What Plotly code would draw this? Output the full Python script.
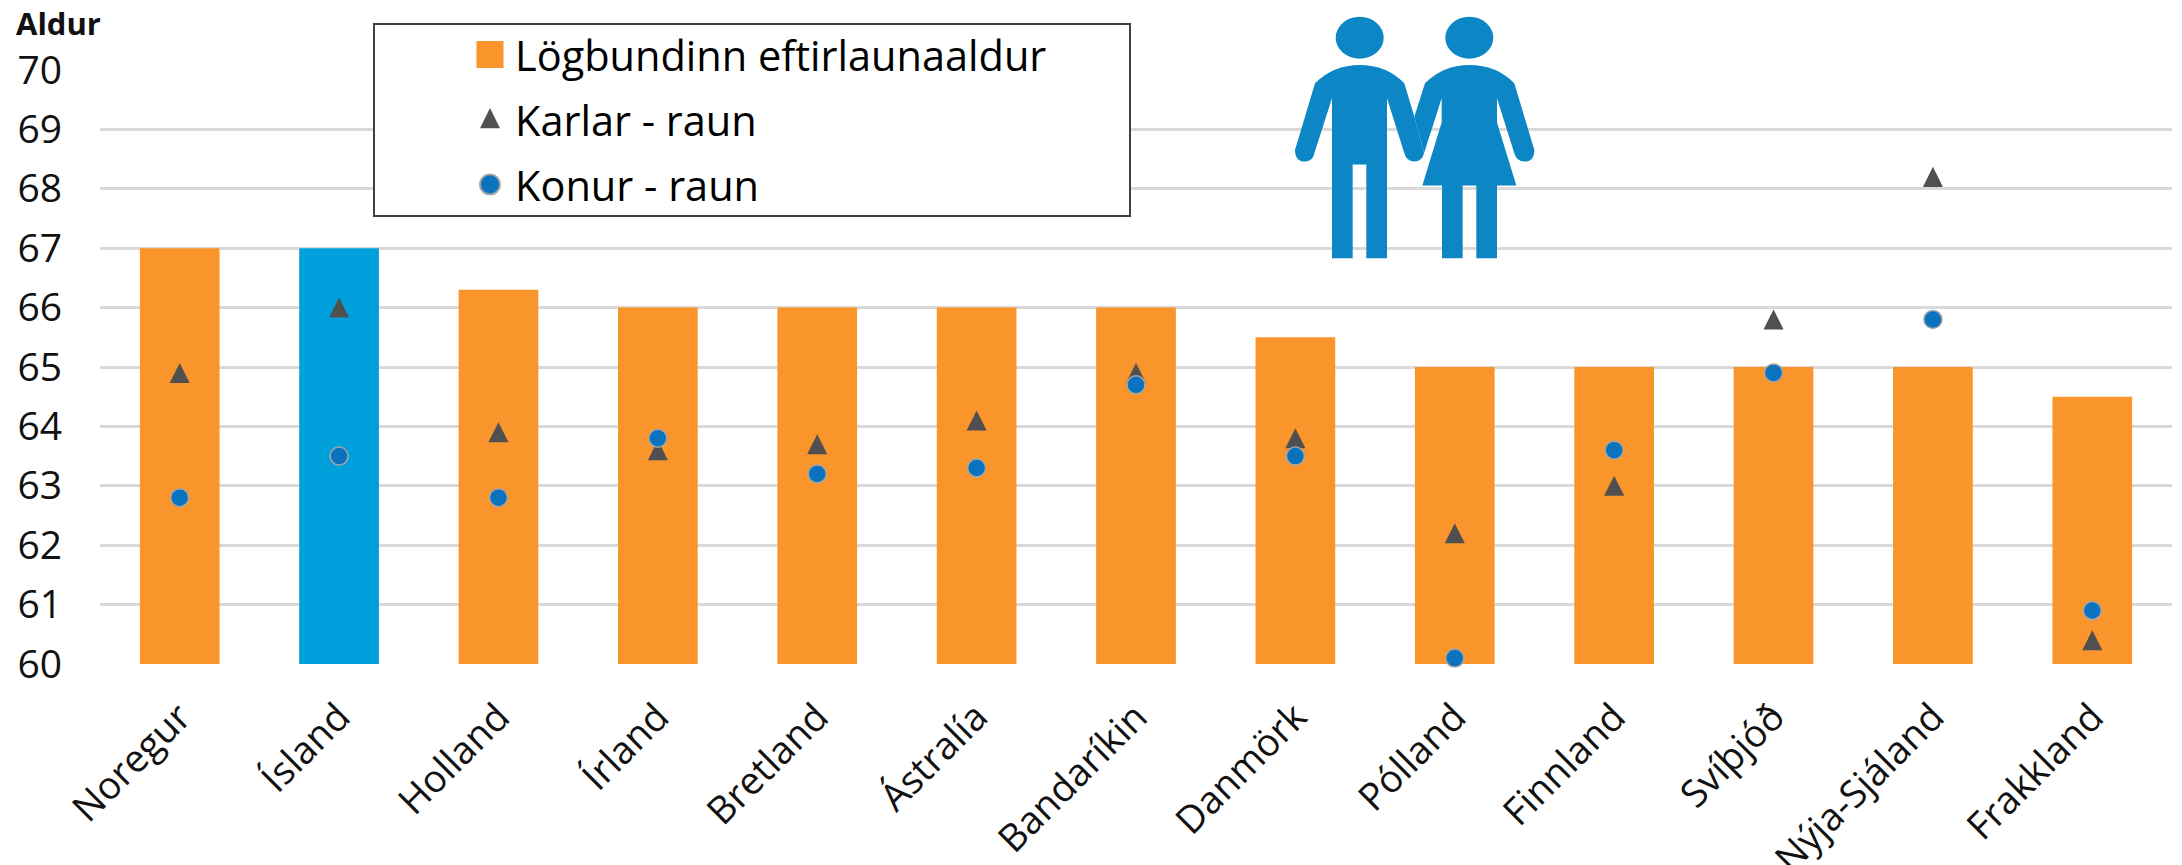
import plotly.graph_objects as go

categories = ["Noregur", "Ísland", "Holland", "Írland", "Bretland", "Ástralía", "Bandaríkin",
              "Danmörk", "Pólland", "Finnland", "Svíþjóð", "Nýja-Sjáland", "Frakkland"]
logbundinn = [67, 67, 66.3, 66, 66, 66, 66, 65.5, 65, 65, 65, 65, 64.5]
karlar = [64.9, 66, 63.9, 63.6, 63.7, 64.1, 64.9, 63.8, 62.2, 63, 65.8, 68.2, 60.4]
konur = [62.8, 63.5, 62.8, 63.8, 63.2, 63.3, 64.7, 63.5, 60.1, 63.6, 64.9, 65.8, 60.9]
bar_colors = ["#F9952B", "#00A0DC"] + ["#F9952B"] * 11
y_ticks = list(range(60, 71))

W, H = 2182, 865
L, R, T, B = 100, 2172, 70, 664.5
FONT = "Open Sans"

def px(x):
    return (x - L) / (R - L)

def py(y):
    return (B - y) / (B - T)

def zx(x):
    return px(1250 + x / 3)

def zy(y):
    return py(y / 3)

def path(cmds):
    out = []
    for c in cmds:
        if isinstance(c, str):
            out.append(c)
        else:
            out.append(f"{zx(c[0]):.5f},{zy(c[1]):.5f}")
    return " ".join(out)

man = path(["M", (329, 195), "Q", (250, 195), (195, 250), "L", (135, 450), "Q", (135, 485), (165, 485),
            "Q", (188, 485), (193, 460), "L", (246, 295), "L", (246, 775), "L", (308, 775), "L", (308, 494),
            "L", (349, 494), "L", (349, 775), "L", (411, 775), "L", (411, 295), "L", (463, 460),
            "Q", (470, 485), (493, 485), "Q", (516, 485), (522, 460), "L", (493, 350), "L", (463, 250),
            "Q", (410, 195), (329, 195), "Z"])
woman = path(["M", (658, 195), "Q", (580, 195), (525, 250), "L", (493, 350), "L", (522, 460), "L", (575, 295),
              "L", (575, 368), "L", (517, 557), "L", (576, 557), "L", (576, 775), "L", (638, 775), "L", (638, 557),
              "L", (679, 557), "L", (679, 775), "L", (741, 775), "L", (741, 557), "L", (799, 557), "L", (741, 368),
              "L", (741, 295), "L", (793, 460), "Q", (800, 485), (823, 485), "Q", (853, 485), (853, 450),
              "L", (793, 250), "Q", (740, 195), (658, 195), "Z"])
ICON = "#0C86C4"

fig = go.Figure()
fig.add_bar(x=categories, y=logbundinn, name="Lögbundinn eftirlaunaaldur", width=0.5,
            marker=dict(color=bar_colors, line=dict(width=0)), legendgroup="a")
fig.add_scatter(x=categories, y=karlar, name="Karlar - raun", mode="markers", cliponaxis=False, legendgroup="b",
                marker=dict(symbol="triangle-up", size=26.7, color="#505050", line=dict(width=0)))
fig.add_scatter(x=categories, y=konur, name="Konur - raun", mode="markers", cliponaxis=False, legendgroup="c",
                marker=dict(symbol="circle", size=18, color="#0B72BE", line=dict(width=1.5, color="#A5A5A5")))

shapes = [
    dict(type="rect", xref="paper", yref="paper", x0=px(374), x1=px(1130), y0=py(24), y1=py(216),
         fillcolor="white", line=dict(color="#404040", width=2), layer="above"),
    dict(type="circle", xref="paper", yref="paper", x0=px(1335.7), x1=px(1383.7), y0=py(16.7), y1=py(58.7),
         fillcolor=ICON, line=dict(width=0), layer="above"),
    dict(type="circle", xref="paper", yref="paper", x0=px(1445.3), x1=px(1493.3), y0=py(16.7), y1=py(58.7),
         fillcolor=ICON, line=dict(width=0), layer="above"),
    dict(type="path", xref="paper", yref="paper", path=man, fillcolor=ICON, line=dict(width=0), layer="above"),
    dict(type="path", xref="paper", yref="paper", path=woman, fillcolor=ICON, line=dict(width=0), layer="above"),
]

fig.update_layout(
    width=W, height=H, autosize=False,
    margin=dict(l=L, r=W - R, t=T, b=H - B, pad=0),
    plot_bgcolor="white", paper_bgcolor="white",
    font=dict(family=FONT, color="#000000"),
    bargap=0.5, shapes=shapes,
    xaxis=dict(range=[-0.5, 12.5], tickangle=-45, tickfont=dict(size=38, color="#111111"),
               showgrid=False, showline=False, ticks="", automargin=False, ticklen=0, ticklabelstandoff=22),
    yaxis=dict(range=[60, 70], tickvals=y_ticks, tickfont=dict(size=39, color="#111111"),
               gridcolor="#D9D9D9", gridwidth=2.5, zeroline=False, showline=False, ticks="", automargin=False,
               ticklabelstandoff=37),
    legend=dict(x=px(465), xanchor="left", y=py(21), yanchor="top", bgcolor="rgba(0,0,0,0)", borderwidth=0,
                itemwidth=40, font=dict(size=41.5, family=FONT), tracegroupgap=8,
                itemclick=False, itemdoubleclick=False),
    annotations=[dict(text="<b>Aldur</b>", xref="paper", yref="paper", x=px(14), y=py(23), xanchor="left",
                      yanchor="middle", showarrow=False, font=dict(size=31, family=FONT, color="#111111"))],
)

post = """
document.body.style.margin='0';
var scales=['scale(2.25)','translate(0,2) scale(1.08,1.67)','scale(1.25)'];
document.querySelectorAll('.legend .traces').forEach(function(t,i){
  t.querySelectorAll('.legendsymbols path').forEach(function(p){
    var tr=p.getAttribute('transform')||'';
    p.setAttribute('transform',tr+' '+scales[i]);
  });
});
var tri=document.querySelectorAll('.cartesianlayer .scatterlayer .trace')[0];
tri.querySelectorAll('.points path').forEach(function(p){
  var tr=p.getAttribute('transform')||'';
  p.setAttribute('transform',tr+' translate(0,3.3) scale(0.65,1)');
});
"""
fig.write_html("out.html", post_script=post, config=dict(displayModeBar=False))
